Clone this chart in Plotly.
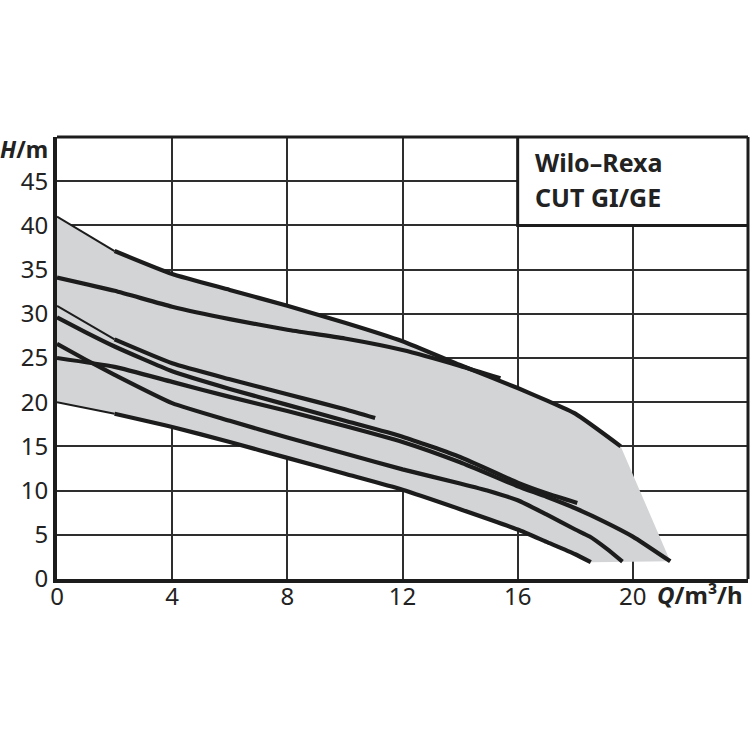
import plotly.graph_objects as go

# ---- data ----
x_ticks = [0, 4, 8, 12, 16, 20]
y_ticks = [0, 5, 10, 15, 20, 25, 30, 35, 40, 45]

# curve A (upper envelope)
a_thin_x = [0, 2]
a_thin_y = [41.0, 37.1]
a_x = [2, 4, 6, 8, 10, 12, 14, 16, 17, 18, 19.58]
a_y = [37.1, 34.5, 32.7, 30.9, 29.0, 26.9, 24.2, 21.6, 20.2, 18.7, 15.0]

# curve B
b_x = [0, 2, 4, 6, 8, 10, 12, 14, 15.4]
b_y = [34.1, 32.6, 30.8, 29.4, 28.2, 27.2, 25.9, 24.1, 22.7]

# curve C
c_thin_x = [0, 2]
c_thin_y = [30.9, 27.1]
c_x = [2, 4, 6, 8, 10, 11.05]
c_y = [27.1, 24.4, 22.6, 20.9, 19.2, 18.2]

# curve D
d_x = [0, 1, 2, 4, 6, 8, 10, 12, 14, 16, 17, 18.07]
d_y = [29.6, 27.9, 26.3, 23.5, 21.5, 19.7, 17.9, 16.1, 13.8, 10.9, 9.7, 8.6]

# curve E
e_x = [0, 1, 2, 4, 6, 8, 10, 12, 14, 15, 16, 17, 18, 18.5, 19.1, 19.64]
e_y = [26.6, 24.8, 23.1, 19.9, 17.9, 16.0, 14.2, 12.4, 10.8, 9.95, 8.9, 7.3, 5.6, 4.8, 3.4, 1.96]

# curve F
f_x = [0, 2, 4, 6, 8, 10, 12, 14, 16, 17, 18, 19, 20, 21.3]
f_y = [25.0, 24.0, 22.3, 20.6, 19.0, 17.3, 15.5, 13.2, 10.5, 9.3, 8.0, 6.5, 4.8, 2.0]

# curve G (lower envelope)
g_thin_x = [0, 2]
g_thin_y = [20.0, 18.7]
g_x = [2, 4, 6, 8, 10, 12, 14, 16, 17, 18, 18.54]
g_y = [18.7, 17.2, 15.5, 13.7, 11.9, 10.1, 7.9, 5.6, 4.2, 2.8, 1.9]

legend_line1 = "Wilo–Rexa"
legend_line2 = "CUT GI/GE"

# ---- style ----
LINE = "#1c1c1c"
GRID = "#2e2e2e"
FILL = "#d3d4d6"
FONT = "Noto Sans"
TXT = "#222"

fig = go.Figure()

# envelope polygon built from the curves
env_x = a_thin_x + a_x[1:] + [f_x[-1]] + g_x[::-1] + g_thin_x[::-1][1:]
env_y = a_thin_y + a_y[1:] + [f_y[-1]] + g_y[::-1] + g_thin_y[::-1][1:]
fig.add_trace(go.Scatter(x=env_x, y=env_y, mode="lines", fill="toself",
                         fillcolor=FILL, line=dict(width=0), hoverinfo="skip"))

def add_line(x, y, w):
    fig.add_trace(go.Scatter(x=x, y=y, mode="lines", hoverinfo="skip",
                             line=dict(color=LINE, width=w, shape="spline", smoothing=0.5)))

for tx, ty in [(a_thin_x, a_thin_y), (c_thin_x, c_thin_y), (g_thin_x, g_thin_y)]:
    add_line(tx, ty, 2)
for cx, cy in [(a_x, a_y), (b_x, b_y), (c_x, c_y), (d_x, d_y),
               (e_x, e_y), (f_x, f_y), (g_x, g_y)]:
    add_line(cx, cy, 4.2)

axis_common = dict(showgrid=True, gridcolor=GRID, gridwidth=2, zeroline=False,
                   showline=True, linecolor=LINE, linewidth=4, ticks="", ticklen=0,
                   automargin=False, fixedrange=True,
                   tickfont=dict(size=24, family=FONT, color=TXT))

fig.update_layout(
    width=750, height=750,
    margin=dict(l=57, r=2, t=137, b=171, autoexpand=False),
    paper_bgcolor="white", plot_bgcolor="white",
    showlegend=False,
    font=dict(family=FONT, size=24, color=TXT),
    xaxis=dict(range=[0, 24], tickvals=x_ticks, ticktext=[str(v) for v in x_ticks],
               ticklabelstandoff=-7, **axis_common),
    yaxis=dict(range=[0, 50], tickvals=y_ticks, ticktext=[str(v) for v in y_ticks], **axis_common),
    shapes=[
        dict(type="line", xref="paper", yref="paper", x0=0, x1=1, y0=1, y1=1,
             line=dict(color=LINE, width=3), layer="above"),
        dict(type="line", xref="paper", yref="paper", x0=1, x1=1, y0=0, y1=1,
             line=dict(color=LINE, width=3), layer="above"),
        dict(type="rect", xref="x", yref="y", x0=16, x1=24, y0=40, y1=50,
             fillcolor="white", line=dict(color=LINE, width=3), layer="above"),
    ],
    annotations=[
        dict(xref="paper", yref="paper", x=-0.010, y=0.973, xanchor="right", yanchor="middle",
             text="<b><i>H</i>/m</b>", showarrow=False, font=dict(size=23, family=FONT, color=TXT)),
        dict(xref="paper", yref="paper", x=0.866, y=-0.036, xanchor="left", yanchor="middle",
             text="<b><i>Q</i>/m³/h</b>", showarrow=False, font=dict(size=24, family=FONT, color=TXT)),
        dict(xref="paper", yref="paper", x=0.689, y=0.943, xanchor="left", yanchor="middle",
             text="<b>" + legend_line1 + "</b>", showarrow=False, font=dict(size=25, family=FONT, color=TXT)),
        dict(xref="paper", yref="paper", x=0.689, y=0.864, xanchor="left", yanchor="middle",
             text="<b>" + legend_line2 + "</b>", showarrow=False, font=dict(size=25, family=FONT, color=TXT)),
    ],
)

fig.write_html("out.html", config={"displayModeBar": False},
               post_script="document.body.style.margin='0';")
